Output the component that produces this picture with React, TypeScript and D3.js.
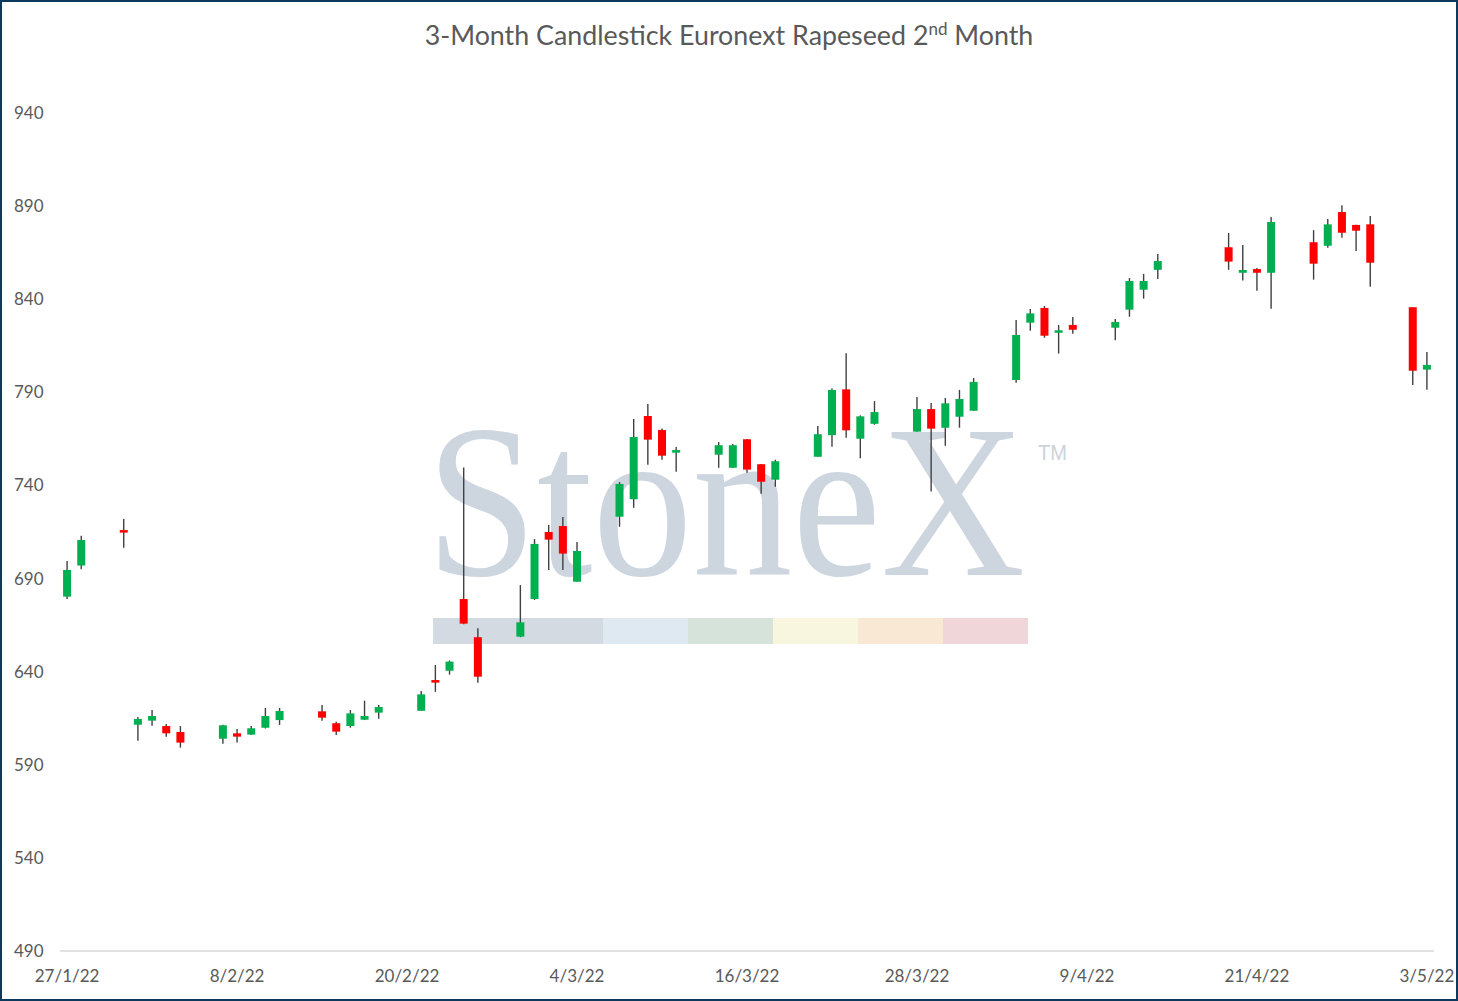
import React from "react";
import * as d3 from "d3";

// ---- Data ----
const dates = [
  "2022-01-27", "2022-01-28", "2022-01-31", "2022-02-01", "2022-02-02", "2022-02-03", "2022-02-04",
  "2022-02-07", "2022-02-08", "2022-02-09", "2022-02-10", "2022-02-11",
  "2022-02-14", "2022-02-15", "2022-02-16", "2022-02-17", "2022-02-18",
  "2022-02-21", "2022-02-22", "2022-02-23", "2022-02-24", "2022-02-25",
  "2022-02-28", "2022-03-01", "2022-03-02", "2022-03-03", "2022-03-04",
  "2022-03-07", "2022-03-08", "2022-03-09", "2022-03-10", "2022-03-11",
  "2022-03-14", "2022-03-15", "2022-03-16", "2022-03-17", "2022-03-18",
  "2022-03-21", "2022-03-22", "2022-03-23", "2022-03-24", "2022-03-25",
  "2022-03-28", "2022-03-29", "2022-03-30", "2022-03-31", "2022-04-01",
  "2022-04-04", "2022-04-05", "2022-04-06", "2022-04-07", "2022-04-08",
  "2022-04-11", "2022-04-12", "2022-04-13", "2022-04-14",
  "2022-04-19", "2022-04-20", "2022-04-21", "2022-04-22",
  "2022-04-25", "2022-04-26", "2022-04-27", "2022-04-28", "2022-04-29",
  "2022-05-02", "2022-05-03",
];

const openValues = [
  680.3, 697, 715.9, 611.5, 613.7, 610.8, 607.6,
  604, 606.9, 606.2, 609.9, 614,
  618.7, 612.3, 610.8, 614.2, 618,
  619, 635.5, 640.5, 679, 658.5,
  658.8, 679, 715, 718.2, 688.3,
  723.2, 732.6, 777.3, 769.8, 757.6,
  756.5, 749.5, 764.8, 751.4, 743.1,
  755.4, 767, 791.6, 765.1, 773.1,
  768.9, 781, 771, 776.9, 780.1,
  796.6, 827.4, 835.3, 822, 826.2,
  824.7, 834.4, 845.1, 855.8,
  867.9, 854.2, 856.2, 854.2,
  870.6, 868.7, 886.8, 879.9, 880.2,
  835.7, 802.2,
];

const highValues = [
  699.4, 713, 722, 615.7, 619.4, 611.9, 610.8,
  611.5, 609.2, 610.8, 620.5, 620.5,
  622.1, 613.1, 619.4, 624.4, 622.1,
  629.6, 643.6, 646, 749.7, 663.3,
  686.5, 711.2, 718.8, 723.1, 709.6,
  741.8, 775.7, 783.7, 770.6, 760.6,
  763.3, 762.2, 765, 751.5, 753.8,
  771.9, 792.1, 811, 777.6, 785.3,
  787.5, 784.3, 787, 791.3, 797.7,
  828.9, 834.7, 836.4, 826.2, 830.5,
  829.4, 851.4, 853.6, 864.3,
  875.6, 869.1, 856.8, 884.2,
  877.1, 883.1, 890.5, 880, 884.7,
  835.7, 811.7,
];

const lowValues = [
  679, 695, 706.6, 602.9, 611, 605.1, 599.2,
  601.3, 601.9, 606, 609.5, 611.4,
  613.7, 606, 609.9, 614, 614.7,
  619, 629.2, 638.4, 665.4, 634.1,
  658.5, 678.5, 694.6, 694.6, 688.3,
  717.8, 728, 751.1, 753.8, 747.4,
  749.5, 749.5, 746.8, 735.6, 739.3,
  755.4, 760.8, 765.6, 754.6, 772.6,
  768.9, 736.7, 761.3, 771, 780,
  795.2, 823.1, 819.3, 810.8, 821.5,
  818, 830.6, 840.3, 850.9,
  855.8, 850, 844.6, 834.9,
  850.5, 867.7, 873, 865.9, 846.7,
  793.9, 791.4,
];

const closeValues = [
  694.6, 710.7, 714.8, 614.6, 616.2, 606.9, 601.9,
  611.2, 605.1, 609.6, 616.2, 618.9,
  615.3, 607.8, 617.6, 616.2, 621,
  627.8, 634.1, 645.4, 665.8, 637.3,
  666.5, 708.6, 710.9, 703.4, 704.8,
  740.8, 766, 764.6, 756, 759,
  761.6, 761.6, 748.5, 742, 753,
  767.5, 791.3, 769.6, 777.1, 779.4,
  781, 770.5, 784.1, 786.4, 795.6,
  820.8, 832.4, 820.4, 823.3, 823.6,
  827.8, 849.8, 849.8, 860.5,
  860.2, 855.7, 854.2, 881.5,
  859.1, 880.2, 875.7, 876.8, 859.6,
  801.6, 804.7,
];

const yTicks = [490, 540, 590, 640, 690, 740, 790, 840, 890, 940];
const tickEveryDays = 12;

const titleMain = "3-Month Candlestick Euronext Rapeseed 2";
const titleSup = "nd";
const titleEnd = " Month";

const watermarkColors = ["#d3dae2", "#dfe9f2", "#d5e3da", "#f8f6de", "#f8e8d4", "#f0d6d8"];
const watermarkSpans = [2, 1, 1, 1, 1, 1];

// ---- Layout ----
const W = 1458;
const H = 1001;
const plotLeft = 60;
const plotRight = 1434;
const plotTop = 113;
const plotBottom = 951;

const GREEN = "#00b050";
const RED = "#ff0000";
const WICK = "#404040";
const TEXT = "#595959";
const FONT = "Lato, 'Open Sans', sans-serif";

const parse = d3.utcParse("%Y-%m-%d");
const fmt = d3.utcFormat("%-d/%-m/%y");

export default function App() {
  const candles = dates.map((d, i) => ({
    date: parse(d) as Date,
    open: openValues[i],
    high: highValues[i],
    low: lowValues[i],
    close: closeValues[i],
  }));

  const first = candles[0].date;
  const last = candles[candles.length - 1].date;
  const allDays = d3.utcDay.range(first, d3.utcDay.offset(last, 1));
  const dayKeys = allDays.map((d) => d.toISOString().slice(0, 10));

  const x = d3.scaleBand<string>().domain(dayKeys).range([plotLeft, plotRight]).padding(0);
  const y = d3.scaleLinear().domain([490, 940]).range([plotBottom, plotTop]);
  const bw = x.bandwidth();
  const bodyW = 8;

  const tickDays = allDays.filter((_, i) => i % tickEveryDays === 0);

  // watermark bar geometry (decorative)
  const barLeft = 433;
  const unit = 85;
  let acc = barLeft;
  const barRects = watermarkSpans.map((s, i) => {
    const r = { x: acc, w: s * unit, c: watermarkColors[i] };
    acc += s * unit;
    return r;
  });

  return (
    <div style={{ position: "fixed", left: 0, top: 0, width: W, height: H, background: "#fff" }}>
      <svg width={W} height={H} style={{ display: "block" }}>
        <rect x={0} y={0} width={W} height={H} fill="#ffffff" />

        {/* Watermark */}
        <g transform="translate(426,575) scale(0.912,1)">
          <text
            x={0}
            y={0}
            fontFamily="'Liberation Serif', 'DejaVu Serif', serif"
            fontSize={219}
            fill="#cdd5de"
          >
            StoneX
            <tspan dx={14} dy={-115} fontFamily="'Liberation Sans', Arial, sans-serif" fontSize={22} fill="#ccd3db">
              TM
            </tspan>
          </text>
        </g>
        {barRects.map((r, i) => (
          <rect key={i} x={r.x} y={618} width={r.w} height={26} fill={r.c} />
        ))}

        {/* Title */}
        <text x={W / 2} y={45} textAnchor="middle" fontFamily={FONT} fontSize={26.8} fill={TEXT}>
          {titleMain}
          <tspan fontSize={17} dy={-10}>{titleSup}</tspan>
          <tspan dy={10}>{titleEnd}</tspan>
        </text>

        {/* Y tick labels */}
        {yTicks.map((t) => (
          <text key={t} x={14} y={y(t)} dy="0.35em" fontFamily={FONT} fontSize={17} fill={TEXT}>
            {t}
          </text>
        ))}

        {/* X axis line */}
        <line x1={plotLeft} x2={plotRight} y1={y(490)} y2={y(490)} stroke="#d9d9d9" strokeWidth={1.5} />

        {/* X tick labels */}
        {tickDays.map((d) => {
          const k = d.toISOString().slice(0, 10);
          return (
            <text key={k} x={(x(k) as number) + bw / 2} y={982} textAnchor="middle" fontFamily={FONT} fontSize={17} fill={TEXT}>
              {fmt(d)}
            </text>
          );
        })}

        {/* Candles */}
        {candles.map((c) => {
          const k = c.date.toISOString().slice(0, 10);
          const cx = (x(k) as number) + bw / 2;
          const up = c.close >= c.open;
          const top = y(Math.max(c.open, c.close));
          const bot = y(Math.min(c.open, c.close));
          const h = Math.max(bot - top, 2.5);
          const mid = (top + bot) / 2;
          return (
            <g key={k}>
              <line x1={cx} x2={cx} y1={y(c.high)} y2={y(c.low)} stroke={WICK} strokeWidth={1.4} />
              <rect x={cx - bodyW / 2} y={mid - h / 2} width={bodyW} height={h} fill={up ? GREEN : RED} />
            </g>
          );
        })}

        {/* Outer border */}
        <rect x={1} y={1} width={W - 2} height={H - 2} fill="none" stroke="#0d3a5c" strokeWidth={2} />
      </svg>
    </div>
  );
}
